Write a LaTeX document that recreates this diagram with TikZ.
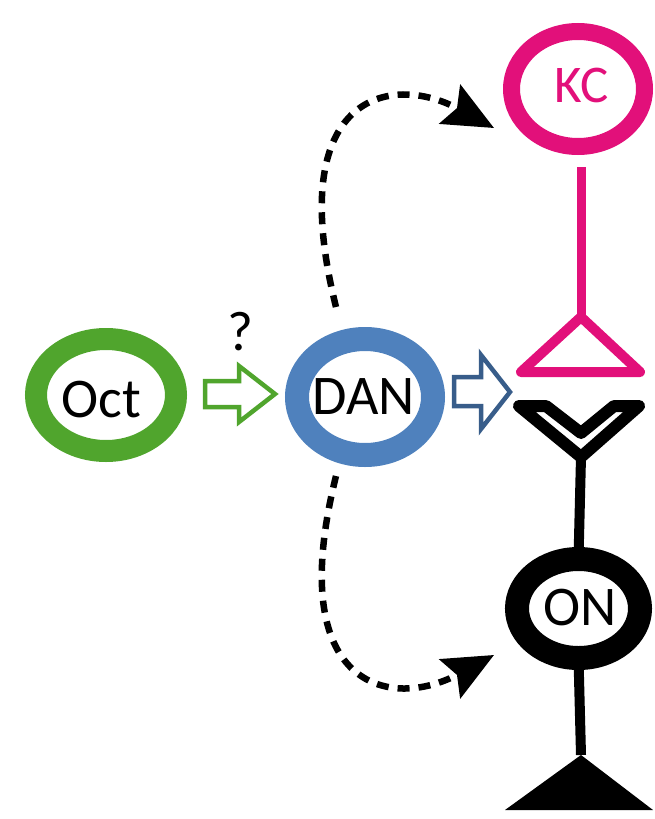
\documentclass[tikz,border=0pt]{standalone}
\usepackage{fontspec}
\setmainfont{Carlito}
\usetikzlibrary{arrows.meta,shapes.geometric}

\definecolor{octgreen}{RGB}{80,165,45}
\definecolor{danblue}{RGB}{79,129,189}
\definecolor{arrowblue}{RGB}{56,93,138}
\definecolor{kcpink}{RGB}{226,16,122}

\tikzset{
  cell/.style={ellipse, draw, inner sep=0pt, outer sep=0pt},
  label/.style={inner sep=0pt, anchor=base, font=\fontsize{56}{62}\selectfont},
  blockarrow/.style={line width=4.5pt, line join=miter, fill=white},
  dashlink/.style={line width=6.5pt, dash pattern=on 12pt off 9pt,
    -{Stealth[length=50pt, width=44pt, inset=8pt]}},
  stem/.style={line width=10pt},
}

\begin{document}
\begin{tikzpicture}[x=1pt, y=-1pt]
\useasboundingbox (0,0) rectangle (654,819);

% cells
\node[cell, draw=octgreen, line width=22pt, minimum width=140pt, minimum height=112pt] (oct) at (106,395) {};
\node[cell, draw=danblue, line width=24pt, minimum width=136pt, minimum height=116pt] (dan) at (365,397) {};
\node[cell, draw=kcpink, line width=17pt, minimum width=133pt, minimum height=115pt] (kc) at (578,89) {};
\node[cell, draw=black, line width=24pt, minimum width=123pt, minimum height=99pt] (on) at (578.5,608.5) {};

% labels
\node[label] (octlbl) at (101.5,417) {Oct};
\node[label] (danlbl) at (364,414) {DAN};
\node[label, text=kcpink, font=\fontsize{53}{60}\selectfont] (kclbl) at (581.5,102) {KC};
\node[label] (onlbl) at (580,625) {ON};
\node[label] (qlbl) at (240.5,350) {?};

% hollow block arrows
\draw[blockarrow, draw=octgreen] (205,381) -- (239,381) -- (239,366) -- (275,394)
  -- (239,422) -- (239,407) -- (205,407) -- cycle;
\draw[blockarrow, draw=arrowblue] (454,377) -- (481,377) -- (481,355) -- (510,392)
  -- (481,429) -- (481,406) -- (454,406) -- cycle;

% KC axon and presynaptic terminal
\coordinate (kcstemtop) at (581,167);
\coordinate (kctip) at (581,317);
\draw[stem, line width=9pt, draw=kcpink] (kcstemtop) -- (kctip);
\draw[line width=10pt, draw=kcpink, line join=round] (kctip) -- (640,372) -- (521,372) -- cycle;

% ON dendrite (receptor fork)
\coordinate (forkbase) at (581,457);
\draw[line width=12pt, line join=round] (519,406) -- (546,406) -- (581,433) -- (614,406)
  -- (639,406) -- (forkbase) -- cycle;
\draw[stem] (forkbase) -- (on.north);

% ON axon and output terminal
\coordinate (ontip) at (581,755);
\draw[stem] (on.south) -- (ontip);
\fill (ontip) -- (653,810) -- (505,810) -- cycle;

% modulatory dashed links from DAN
\coordinate (dantop) at (336,307);
\coordinate (danbot) at (336,476);
\coordinate (kcin) at (494,128);
\coordinate (onin) at (494,655);
\draw[dashlink] (dantop) .. controls (283,95) and (390,72) .. (kcin);
\draw[dashlink] (danbot) .. controls (283,688) and (390,711) .. (onin);
\end{tikzpicture}
\end{document}
